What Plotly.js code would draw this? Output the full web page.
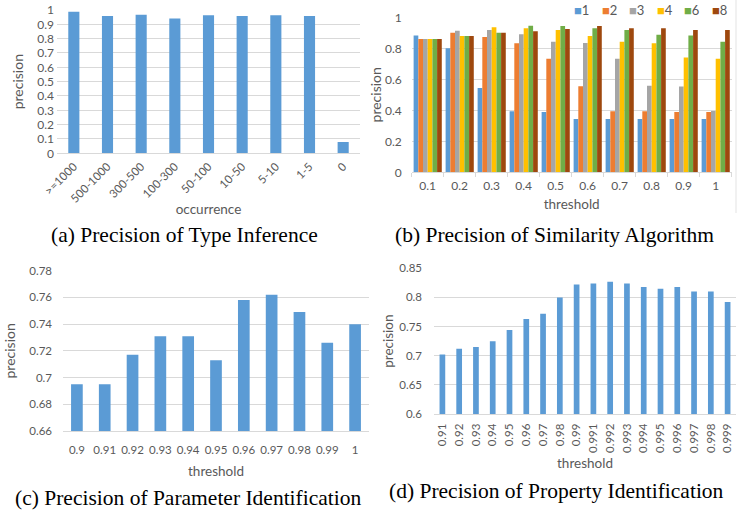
<!DOCTYPE html>
<html>
<head>
<meta charset="utf-8">
<script src="https://cdn.plot.ly/plotly-3.0.1.min.js"></script>
<style>html,body{margin:0;padding:0;background:#fff;}#chart{width:751px;height:512px;}</style>
</head>
<body>
<div id="chart"></div>
<script>
// ---- data ----
const occurrence = [">=1000","500-1000","300-500","100-300","50-100","10-50","5-10","1-5","0"];
const typePrecision = [0.988,0.958,0.967,0.940,0.963,0.958,0.963,0.958,0.079];

const simThresholds = ["0.1","0.2","0.3","0.4","0.5","0.6","0.7","0.8","0.9","1"];
const simNames = ["1","2","3","4","6","8"];
const sim1 = [0.882,0.800,0.544,0.394,0.389,0.344,0.344,0.344,0.344,0.344];
const sim2 = [0.860,0.900,0.873,0.832,0.733,0.555,0.394,0.394,0.389,0.389];
const sim3 = [0.860,0.914,0.918,0.890,0.843,0.834,0.733,0.559,0.553,0.396];
const sim4 = [0.860,0.880,0.935,0.930,0.918,0.880,0.843,0.832,0.740,0.733];
const sim6 = [0.860,0.880,0.900,0.946,0.944,0.929,0.918,0.888,0.882,0.843];
const sim8 = [0.860,0.880,0.900,0.910,0.925,0.944,0.929,0.929,0.918,0.918];
const simSeries = [sim1, sim2, sim3, sim4, sim6, sim8];

const paramThresholds = ["0.9","0.91","0.92","0.93","0.94","0.95","0.96","0.97","0.98","0.99","1"];
const paramPrecision = [0.695,0.695,0.717,0.731,0.731,0.713,0.758,0.762,0.749,0.726,0.740];

const propThresholds = ["0.91","0.92","0.93","0.94","0.95","0.96","0.97","0.98","0.99","0.991","0.992","0.993","0.994","0.995","0.996","0.997","0.998","0.999"];
const propPrecision = [0.702,0.712,0.715,0.725,0.744,0.763,0.772,0.800,0.822,0.824,0.827,0.824,0.818,0.815,0.818,0.810,0.810,0.792];

const captions = ["(a) Precision of Type Inference","(b) Precision of Similarity Algorithm","(c) Precision of Parameter Identification","(d) Precision of Property Identification"];

// ---- styles ----
const W = 751, H = 512;
const BLUE = "#5B9BD5";
const simColors = ["#5B9BD5","#ED7D31","#A5A5A5","#FFC000","#70AD47","#9E480E"];
const GRID = "#D9D9D9", TXT = "#595959";
const FONT = "Lato, 'Open Sans', sans-serif";
const px = v => v / W;
const py = v => 1 - v / H;

const traces = [];
traces.push({type:"bar", x:occurrence, y:typePrecision, xaxis:"x", yaxis:"y",
  marker:{color:BLUE}, width:0.33, showlegend:false});
simSeries.forEach((s,i)=>{
  traces.push({type:"bar", x:simThresholds, y:s, name:simNames[i], xaxis:"x2", yaxis:"y2",
    marker:{color:simColors[i]}, showlegend:false});
});
traces.push({type:"bar", x:paramThresholds, y:paramPrecision, xaxis:"x3", yaxis:"y3",
  marker:{color:BLUE}, width:0.42, showlegend:false});
traces.push({type:"bar", x:propThresholds, y:propPrecision, xaxis:"x4", yaxis:"y4",
  marker:{color:BLUE}, width:0.34, showlegend:false});

function xax(domain, anchor, title, standoff, extra){
  return Object.assign({domain:domain, anchor:anchor, type:"category", showline:true, linecolor:GRID, linewidth:1,
    showgrid:false, zeroline:false, ticks:"", tickfont:{family:FONT,size:12,color:TXT},
    title:{text:title, font:{family:FONT,size:13.5,color:TXT}, standoff:standoff}, automargin:false, fixedrange:true}, extra||{});
}
function yax(domain, anchor, range, dtick, standoff, extra){
  return Object.assign({domain:domain, anchor:anchor, range:range, dtick:dtick, tick0:range[0], showline:false,
    showgrid:true, gridcolor:GRID, gridwidth:1, zeroline:false, ticks:"",
    tickfont:{family:FONT,size:12,color:TXT},
    title:{text:"precision", font:{family:FONT,size:14,color:TXT}, standoff:standoff}, automargin:false, fixedrange:true}, extra||{});
}

const annotations = [];
simNames.forEach((n,i)=>{
  annotations.push({xref:"paper", yref:"paper", x:px(572 + i*27.6), y:py(10), xanchor:"left", yanchor:"middle",
    showarrow:false, text:'<span style="color:'+simColors[i]+'">■</span>'+n,
    font:{family:FONT, size:13, color:TXT}});
});
const capPos = [[184,235],[554,235],[188,498],[556,491]];
captions.forEach((c,i)=>{
  annotations.push({xref:"paper", yref:"paper", x:px(capPos[i][0]), y:py(capPos[i][1]), xanchor:"center", yanchor:"middle",
    showarrow:false, text:c, font:{family:"'Liberation Serif', 'Times New Roman', serif", size:21.5, color:"#000"}});
});

const layout = {
  width:W, height:H, margin:{l:0,r:0,t:0,b:0}, paper_bgcolor:"#fff", plot_bgcolor:"#fff",
  barmode:"group", bargap:0.12, bargroupgap:0, showlegend:false,
  xaxis: xax([px(57),px(360)], "y", "occurrence", 0, {tickangle:-45, ticklabelstandoff:1, tickfont:{family:FONT,size:11.5,color:TXT}}),
  yaxis: yax([py(153.3),py(10)], "x", [0,1], 0.1, 10, {ticklabelstandoff:2}),
  xaxis2: xax([px(411.7),px(731.7)], "y2", "threshold", 7, {ticks:"outside", tickson:"boundaries", ticklen:4, tickcolor:GRID, ticklabelstandoff:2}),
  yaxis2: yax([py(172.3),py(17.3)], "x2", [0,1], 0.2, 0, {ticklabelstandoff:9}),
  xaxis3: xax([px(63),px(369)], "y3", "threshold", 11, {tickfont:{family:FONT,size:11.5,color:TXT}, ticklabelstandoff:8}),
  yaxis3: yax([py(431),py(270.7)], "x3", [0.66,0.78], 0.02, 10, {tickfont:{family:FONT,size:11.5,color:TXT}, ticklabelstandoff:10}),
  xaxis4: xax([px(434),px(736)], "y4", "threshold", 6, {tickangle:-90, tickfont:{family:FONT,size:11.5,color:TXT}, ticklabelstandoff:4}),
  yaxis4: yax([py(414),py(268.3)], "x4", [0.6,0.85], 0.05, 2, {tickfont:{family:FONT,size:11.5,color:TXT}, ticklabelstandoff:11}),
  annotations: annotations,
  shapes:[{type:"line", xref:"paper", yref:"paper", x0:px(736), x1:px(736), y0:py(0), y1:py(213), line:{color:"#E3E3E3", width:1}}]
};
layout.yaxis4.title.font.size = 13.5;

Plotly.newPlot("chart", traces, layout, {staticPlot:true, displayModeBar:false});
</script>
</body>
</html>
